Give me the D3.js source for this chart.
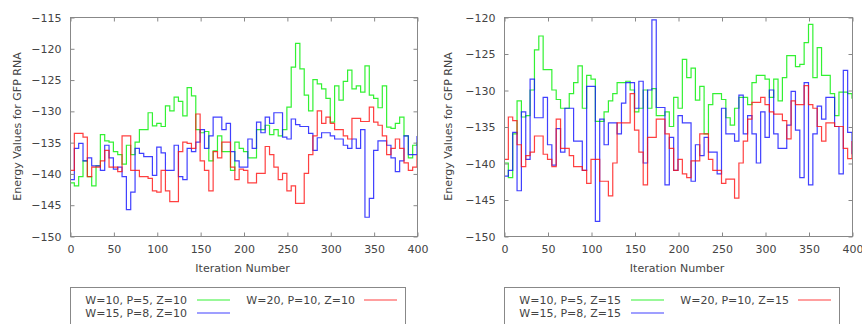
<!DOCTYPE html>
<html>
<head>
<meta charset="utf-8">
<script src="https://cdn.jsdelivr.net/npm/d3@7"></script>
<style>
body { margin: 0; background: #fff; }
text { font-family: "DejaVu Sans", sans-serif; font-size: 11px; fill: #444; }
</style>
</head>
<body>
<div id="viz"></div>
<script>

var width = 862;
var height = 324;

// Data (every 5 iterations) //

var iterations = [0,5,10,15,20,25,30,35,40,45,50,55,60,65,70,75,80,85,90,95,
   100,105,110,115,120,125,130,135,140,145,150,155,160,165,170,175,180,185,190,195,
   200,205,210,215,220,225,230,235,240,245,250,255,260,265,270,275,280,285,290,295,
   300,305,310,315,320,325,330,335,340,345,350,355,360,365,370,375,380,385,390,395,400];

var xTicks = [0, 50, 100, 150, 200, 250, 300, 350, 400];
var yTicksLeft = [-150, -145, -140, -135, -130, -125, -120, -115];
var yTicksRight = [-150, -145, -140, -135, -130, -125, -120];

var labelsLeft = ["W=10, P=5, Z=10", "W=15, P=8, Z=10", "W=20, P=10, Z=10"];
var labelsRight = ["W=10, P=5, Z=15", "W=15, P=8, Z=15", "W=20, P=10, Z=15"];

var greenZ10 = [-141.5,-142,-140.5,-138,-140.5,-142,-138.8,-133.8,-134.8,-135,
   -136.5,-137,-138.5,-135.5,-137,-135,-133,-133,-130.3,-132.4,
   -132,-132.5,-129.2,-130,-127.8,-128.5,-130.8,-126.3,-127.6,-133,
   -133.5,-133.3,-138,-136.4,-134,-136.5,-136.5,-139.5,-135,-136,
   -136.5,-137.5,-137.5,-133,-133,-132.3,-133.8,-133,-134,-133,
   -129.4,-123,-119.2,-123.3,-127.5,-130,-125,-125.7,-126.5,-128,
   -131.8,-126,-128.3,-125.3,-123.5,-126.5,-126,-127,-122.8,-127.5,
   -128,-129.5,-126,-132.6,-132.8,-132,-131,-134,-137.5,-135.5,-135];

var blueZ10 = [-141,-136,-135.2,-138,-137.5,-138.8,-138.8,-139.5,-135.5,-137.5,
   -139.3,-139,-140.5,-145.8,-143,-136,-136.8,-137.3,-137.3,-140.3,
   -135.8,-136.7,-139.5,-139.5,-135.5,-140.5,-141,-136,-136.5,-135,
   -133,-136,-134,-131,-131,-133,-132,-136.5,-138,-139,
   -139,-134.5,-136,-131.8,-133.5,-131,-132,-130.3,-130.3,-134.2,
   -134.5,-131.3,-132.2,-132.5,-132.5,-133.6,-136.3,-134.3,-133.5,-133.5,
   -134,-134.5,-134.5,-135.5,-136,-134.5,-136,-133,-147,-144,
   -136.3,-134.8,-134.8,-135.5,-137.5,-139.7,-138,-134,-137,-137,-134];

var redZ10 = [-139.5,-133.6,-133.6,-134.2,-140.5,-139,-139,-138,-136.3,-139,
   -139,-139.7,-134,-134,-139.5,-139.5,-140.5,-140.5,-140.8,-142.8,
   -143,-139.5,-142.8,-144.5,-144.5,-136.5,-135,-135.2,-136,-130.5,
   -138,-139.5,-142.8,-136.5,-137.5,-135,-135,-139,-141,-139.3,
   -139.5,-141.5,-141.5,-140,-140,-135.7,-137,-139,-141,-140,
   -142.8,-142,-144.8,-144.8,-140,-137,-134,-130,-132,-131,
   -132,-133,-133,-134,-134.5,-131.2,-131.2,-131.7,-131.7,-129.4,
   -131.8,-132.3,-134,-137,-136,-134.5,-136,-138.3,-139.5,-139,-137];

var greenZ15 = [-140,-142,-136,-131.5,-133.7,-133.5,-130,-124.5,-122.6,-127.2,
   -127.2,-130,-131.3,-132.5,-132.5,-130.5,-129,-126.7,-132.5,-128,
   -128.5,-134.3,-134.3,-133,-131.5,-130.5,-129,-129,-128.8,-130,
   -133,-132.5,-130,-132.5,-129.8,-133.5,-133.5,-133,-135,-131,
   -132.5,-125.8,-128.3,-127,-131.4,-129.5,-136,-132,-130.5,-130.5,
   -131.3,-133.8,-134.8,-132.5,-131,-131,-132,-129,-128,-128,
   -128.5,-131,-128.5,-131.5,-128.3,-125.3,-125.3,-126.8,-126.5,-123.5,
   -121,-128.3,-124.2,-128,-128,-130.5,-133.5,-130.3,-130.3,-130.5,-131.2];

var blueZ15 = [-141.8,-141,-135.8,-143.8,-133,-139.5,-128.5,-133.8,-133.8,-131,
   -137.5,-140.3,-135.3,-138.5,-132.5,-132.5,-137,-137,-141,-129.5,
   -129.5,-148,-134,-137.5,-134.5,-134.5,-136,-131.8,-129,-129,
   -132.5,-128.8,-140,-130,-120.4,-132.4,-132.4,-143,-136.5,-141,
   -133.5,-134.5,-134.5,-142.5,-137.5,-139,-136.5,-138.5,-138.5,-141.5,
   -132.5,-136,-136,-137,-130.7,-136,-133.5,-136,-140,-133,
   -136.5,-130,-136,-138,-138,-134.8,-130.2,-135.5,-142,-129,
   -143,-136,-132.2,-134,-131,-131,-135,-141.5,-127.3,-135.8,-138.8];

var redZ15 = [-139.5,-133.7,-134.2,-137.5,-140.5,-139,-138.5,-136.3,-136.3,-138.8,
   -139.5,-140.5,-134,-138,-138,-139,-140.5,-140.5,-141,-142.8,
   -139.5,-139.5,-142.5,-142.5,-144.5,-140,-134.5,-134.5,-134.5,-130.5,
   -135.5,-138.5,-143,-136.5,-136.5,-134,-134,-136,-138,-141,
   -139.5,-141.5,-142,-139.7,-139.7,-136,-136,-139.5,-141,-141,
   -142.8,-142.2,-142.2,-144.8,-140,-137,-134,-131.7,-131.7,-131,
   -132,-133,-133.3,-133.3,-134.2,-136.7,-131.5,-132,-132,-129.4,
   -132,-132.5,-135,-137,-134.5,-134.5,-135,-135,-138,-139.4,-137];

var colors = ["#00ee00", "#1010ff", "#ff1010"];

var svg = d3.select("#viz").append("svg")
   .attr("width", width)
   .attr("height", height);

// Panels //

drawPanel(0, 70, 417, [-150, -115], yTicksLeft, [greenZ10, blueZ10, redZ10], labelsLeft);
drawPanel(431, 504, 852, [-150, -120], yTicksRight, [greenZ15, blueZ15, redZ15], labelsRight);

function drawPanel(offset, left, right, yDomain, yTicks, series, labels) {
   var top = 17;
   var bottom = 236;
   var g = svg.append("g");

   var x = d3.scaleLinear().domain([0, 400]).range([left, right]);
   var y = d3.scaleLinear().domain(yDomain).range([bottom, top]);

   // series lines
   var line = d3.line()
      .x(function(d, i) { return x(iterations[i]); })
      .y(function(d) { return y(d); })
      .curve(d3.curveStepAfter);

   series.forEach(function(s, k) {
      g.append("path")
         .attr("d", line(s))
         .attr("fill", "none")
         .attr("stroke", colors[k])
         .attr("stroke-opacity", 0.8)
         .attr("stroke-width", 1.2);
   });

   // frame and inward ticks, mirrored like gnuplot
   g.append("rect")
      .attr("x", left + 0.5)
      .attr("y", top + 0.5)
      .attr("width", right - left)
      .attr("height", bottom - top)
      .attr("fill", "none")
      .attr("stroke", "#888")
      .attr("stroke-width", 1);

   var axes = [
      d3.axisBottom(x).tickValues(xTicks).tickSizeInner(-4).tickSizeOuter(0).tickPadding(9),
      d3.axisTop(x).tickValues(xTicks).tickSizeInner(-4).tickSizeOuter(0).tickFormat(""),
      d3.axisLeft(y).tickValues(yTicks).tickSizeInner(-4).tickSizeOuter(0).tickPadding(9),
      d3.axisRight(y).tickValues(yTicks).tickSizeInner(-4).tickSizeOuter(0).tickFormat("")
   ];
   var pos = [
      "translate(0.5," + (bottom + 0.5) + ")",
      "translate(0.5," + (top + 0.5) + ")",
      "translate(" + (left + 0.5) + ",0.5)",
      "translate(" + (right + 0.5) + ",0.5)"
   ];
   axes.forEach(function(a, i) {
      var ax = g.append("g").attr("transform", pos[i]).call(a);
      ax.select(".domain").remove();
      ax.selectAll("line").attr("stroke", "#888");
      ax.selectAll("text")
         .style("font-family", "DejaVu Sans, sans-serif")
         .style("font-size", "11px")
         .attr("fill", "#444");
   });

   // axis titles
   g.append("text")
      .attr("x", (left + right) / 2 - 1)
      .attr("y", 272)
      .attr("text-anchor", "middle")
      .text("Iteration Number");

   g.append("text")
      .attr("transform", "translate(" + (offset + 21) + "," + ((top + bottom) / 2) + ") rotate(-90)")
      .attr("text-anchor", "middle")
      .text("Energy Values for GFP RNA");

   // legend box
   g.append("rect")
      .attr("x", left + 0.5)
      .attr("y", 287.5)
      .attr("width", 335)
      .attr("height", 50)
      .attr("fill", "none")
      .attr("stroke", "#888")
      .attr("stroke-width", 1);

   var slots = [
      { tx: left + 117, lx: left + 127, y: 300 },
      { tx: left + 117, lx: left + 127, y: 313 },
      { tx: left + 285, lx: left + 294, y: 300 }
   ];
   slots.forEach(function(s, k) {
      g.append("text")
         .attr("x", s.tx)
         .attr("y", s.y + 3.5)
         .attr("text-anchor", "end")
         .text(labels[k]);
      g.append("path")
         .attr("d", "M" + s.lx + "," + s.y + "H" + (s.lx + 33))
         .attr("fill", "none")
         .attr("stroke", colors[k])
         .attr("stroke-opacity", 0.8)
         .attr("stroke-width", 1.2);
   });
}

</script>
</body>
</html>
